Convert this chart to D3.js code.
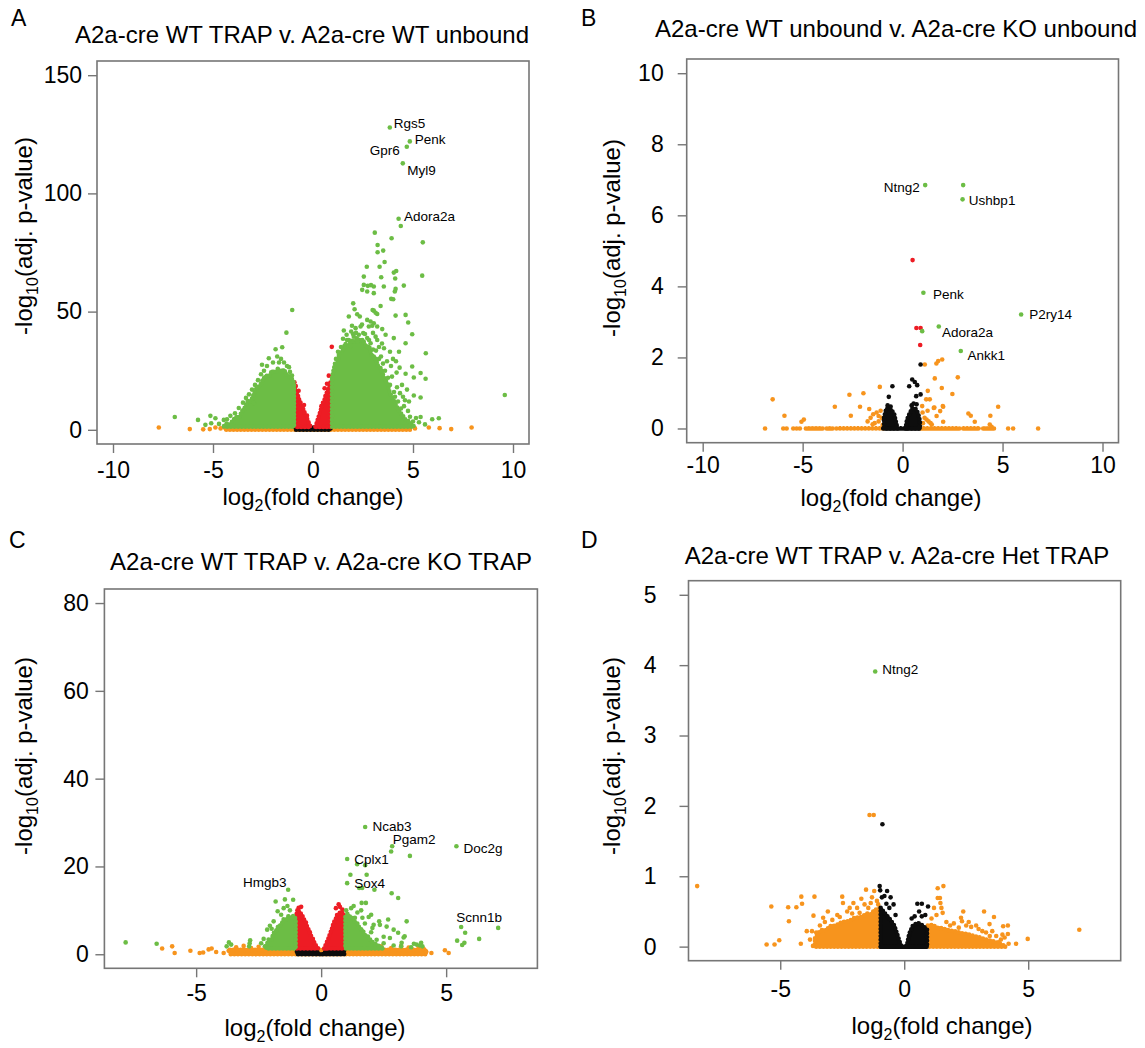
<!DOCTYPE html>
<html>
<head>
<meta charset="utf-8">
<script src="https://cdn.jsdelivr.net/npm/d3@7"></script>
<style>
  body { margin: 0; background: #fff; }
  svg text { font-family: "Liberation Sans", Arial, sans-serif; }
</style>
</head>
<body>
<svg id="fig" width="1145" height="1048"></svg>
<script>
// ---------- data (log2 fold change, -log10 adj. p) ----------

const titles = [
  "A2a-cre WT TRAP v. A2a-cre WT unbound",
  "A2a-cre WT unbound v. A2a-cre KO unbound",
  "A2a-cre WT TRAP v. A2a-cre KO TRAP",
  "A2a-cre WT TRAP v. A2a-cre Het TRAP"
];
const panelLetters = ["A", "B", "C", "D"];

const xTicksAB = [-10, -5, 0, 5, 10];
const xTicksCD = [-5, 0, 5];
const yTicksA = [0, 50, 100, 150];
const yTicksB = [0, 2, 4, 6, 8, 10];
const yTicksC = [0, 20, 40, 60, 80];
const yTicksD = [0, 1, 2, 3, 4, 5];

// dense point clouds, as [x, low, high] outlines
const aCoreOrange = [[[-4.4, 0, 0.9], [4.85, 0, 0.9]]];
const aCoreBlack = [[[-0.88, 0, 1.0], [0.88, 0, 1.0]]];
const aCoreRed = [
  [[-0.9, 1.2, 17], [-0.84, 1.2, 16], [-0.78, 1.2, 15.5], [-0.71, 1.2, 13], [-0.65, 1.2, 12.5], [-0.58, 1.2, 10],
   [-0.5, 1.2, 9], [-0.43, 1.2, 7.5], [-0.36, 1.2, 6], [-0.3, 1.2, 4.8], [-0.24, 1.2, 3.5], [-0.12, 1.2, 1.3]],
  [[0.12, 1.2, 1.3], [0.2, 1.2, 3.2], [0.28, 1.2, 5.5], [0.36, 1.2, 7.5], [0.43, 1.2, 9.5], [0.5, 1.2, 11.5],
   [0.57, 1.2, 12.5], [0.64, 1.2, 15], [0.71, 1.2, 16], [0.78, 1.2, 18], [0.85, 1.2, 18.5], [0.9, 1.2, 19.5]]
];
const aCoreGreen = [
  [[-4.45, 1.3, 1.6], [-4.3, 1.3, 2.8], [-4.15, 1.3, 2.2], [-4.0, 1.3, 4], [-3.85, 1.3, 5.5], [-3.7, 1.3, 5],
   [-3.55, 1.3, 8], [-3.4, 1.3, 9.5], [-3.25, 1.3, 12.5], [-3.1, 1.3, 12], [-2.95, 1.3, 15.5], [-2.8, 1.3, 18],
   [-2.65, 1.3, 18.5], [-2.5, 1.3, 21.5], [-2.35, 1.3, 23], [-2.2, 1.3, 22.5], [-2.05, 1.3, 25], [-1.9, 1.3, 24],
   [-1.75, 1.3, 26], [-1.6, 1.3, 24.5], [-1.45, 1.3, 25.5], [-1.3, 1.3, 23], [-1.15, 1.3, 22.5], [-1.0, 1.3, 21],
   [-0.95, 1.3, 19.5]],
  [[0.95, 1.3, 22], [1.1, 1.3, 28], [1.2, 1.3, 27], [1.3, 1.3, 32], [1.45, 1.3, 33], [1.6, 1.3, 36], [1.75, 1.3, 35],
   [1.9, 1.3, 38], [2.05, 1.3, 37], [2.2, 1.3, 39], [2.35, 1.3, 37.5], [2.5, 1.3, 38], [2.65, 1.3, 35], [2.8, 1.3, 35.5],
   [2.95, 1.3, 31], [3.1, 1.3, 31], [3.25, 1.3, 27], [3.4, 1.3, 26], [3.55, 1.3, 22], [3.7, 1.3, 20], [3.85, 1.3, 15.5],
   [4.0, 1.3, 13], [4.15, 1.3, 10.5], [4.3, 1.3, 8], [4.45, 1.3, 6.5], [4.6, 1.3, 4.5], [4.75, 1.3, 3.8],
   [4.9, 1.3, 2.5], [5.05, 1.3, 1.5]]
];
const aOrange = [[-7.71, 1.0], [-6.16, 0.3], [-5.49, 0.2], [-5.16, 0.3], [-4.88, 1.0], [-4.62, 0.6], [-4.45, 1.3],
  [4.62, 0.9], [4.88, 1.4], [5.1, 0.6], [5.79, 1.0], [6.33, 0.7], [6.91, 0.3], [7.93, 1.0]];
const aBlack = [];
const aRed = [[-0.93, 20.1], [-0.86, 18.5], [-0.72, 16.5], [-0.45, 10.5], [0.58, 17.6], [0.79, 22.9], [0.87, 20.0],
  [0.7, 19.5], [0.94, 35.1], [0.42, 10], [-0.3, 6]];
const aGreen = [
  [3.84, 127.9], [4.84, 122.0], [4.69, 119.7], [4.49, 112.7], [4.28, 89.3], [4.39, 86.2],
  [3.09, 83.4], [3.93, 81.0], [5.49, 79.3], [3.23, 78.2], [3.51, 75.8], [3.23, 75.1], [3.58, 71.0], [2.69, 69.0],
  [3.33, 69.0], [4.04, 66.5], [4.16, 67.2], [5.46, 65.2], [2.54, 64.8], [3.41, 64.5], [4.11, 64.0], [2.54, 61.3],
  [2.74, 60.9], [3.04, 60.6], [2.9, 61.2], [3.54, 60.6], [4.54, 61.0], [2.46, 59.2], [2.71, 58.5], [3.04, 57.8],
  [4.09, 58.5], [4.13, 59.6], [3.91, 55.4], [4.01, 55.2], [2.01, 53.5], [3.38, 52.4], [2.08, 51.0], [2.98, 50.7],
  [3.04, 50.4], [2.21, 48.9], [2.34, 47.9], [3.21, 49.0], [3.13, 49.5], [4.13, 48.3], [4.63, 48.6], [1.79, 47.9],
  [2.71, 46.5], [2.88, 45.8], [3.04, 45.1], [4.76, 45.4], [2.79, 43.7], [2.96, 44.0], [3.21, 43.7], [3.46, 42.6],
  [1.54, 42.0], [1.68, 40.2], [1.91, 41.6], [2.13, 43.0], [2.38, 43.7], [2.51, 40.9], [2.29, 40.2], [2.04, 39.4],
  [1.79, 38.0], [1.63, 36.3], [1.88, 35.5], [2.21, 37.3], [2.46, 38.0], [2.71, 38.8], [2.88, 36.6], [3.21, 38.0],
  [3.13, 39.4], [3.63, 40.2], [4.04, 38.8], [4.63, 36.6], [4.96, 40.4], [5.64, 32.4], [5.38, 24.0], [5.63, 21.6],
  [4.96, 26.8], [5.04, 22.1], [4.63, 23.7], [4.33, 26.3], [4.18, 24.2], [5.04, 14.5], [5.38, 13.7], [9.59, 14.7],
  [5.38, 5.4], [5.96, 4.5], [6.29, 4.9],
  [1.05, 25], [1.15, 30], [1.25, 33], [1.4, 35], [1.5, 38.5], [1.7, 38], [2.0, 40.5], [2.15, 41], [2.6, 40.5],
  [2.8, 38], [3.0, 34], [3.15, 33.5], [3.3, 30], [3.4, 31], [3.5, 28], [3.6, 25], [3.75, 22], [3.85, 19],
  [3.95, 22.5], [4.05, 16], [4.1, 14], [4.25, 12], [4.4, 9], [4.5, 14], [4.6, 12.5], [4.75, 8], [4.85, 5.5],
  [5.0, 3.5], [3.7, 29], [3.85, 33], [4.0, 30], [4.45, 19], [4.7, 17], [3.55, 34.5], [4.3, 33], [4.15, 29],
  [3.45, 36.5], [5.15, 5], [5.3, 3.2], [5.6, 2.3], [3.3, 35], [3.0, 41], [2.45, 44.5], [1.95, 44], [4.2, 18],
  [4.55, 10], [4.35, 15.5], [3.9, 27], [4.8, 12],
  [-1.04, 50.7], [-1.33, 41.1], [-1.54, 34.9], [-1.87, 34.1], [-2.21, 30.3], [-1.79, 31.0], [-1.6, 30.0],
  [-1.45, 28.5], [-1.3, 27], [-1.15, 24.5], [-1.05, 23], [-2.0, 28.5], [-2.3, 27], [-2.45, 25], [-2.6, 23.5],
  [-2.75, 21], [-2.9, 19], [-3.05, 17], [-3.2, 15], [-3.35, 13.5], [-3.5, 11.5], [-3.71, 9.2], [-3.9, 7],
  [-4.13, 5.9], [-4.3, 4.5], [-4.46, 4.2], [-4.7, 2.5], [-4.88, 4.9], [-5.09, 2.8], [-5.13, 5.9], [-5.38, 2.1],
  [-5.75, 4.2], [-6.91, 5.4], [-2.96, 11.3], [-3.29, 9.2], [-2.55, 27.5], [-1.7, 28.5], [-1.2, 26.5]
];
const aLabels = [["Rgs5", 3.84, 127.9], ["Penk", 4.84, 122.0], ["Gpr6", 4.69, 119.7], ["Myl9", 4.49, 112.7], ["Adora2a", 4.28, 89.3]];

const bCoreOrange = [
  [[-4.84, 0, 0], [-3.97, 0, 0]], [[-3.8, 0, 0], [-3.47, 0, 0]], [[-3.31, 0, 0], [-0.97, 0, 0]],
  [[0.9, 0, 0], [2.86, 0, 0]], [[3.03, 0, 0], [3.86, 0, 0]], [[4.03, 0, 0], [4.61, 0, 0]]
];
const bCoreBlack = [
  [[-0.97, 0, 0], [0.9, 0, 0]],
  [[-0.93, 0, 0.3], [-0.82, 0, 0.55], [-0.7, 0, 0.6], [-0.55, 0, 0.52], [-0.42, 0, 0.4], [-0.32, 0, 0.15], [-0.25, 0, 0]],
  [[0.15, 0, 0], [0.22, 0, 0.25], [0.35, 0, 0.42], [0.5, 0, 0.58], [0.65, 0, 0.55], [0.78, 0, 0.42], [0.87, 0, 0.2]]
];
const bCoreRed = [];
const bCoreGreen = [];
const bOrange = [
  [-6.88, 0], [-5.97, 0], [-5.8, 0], [-5.47, 0], [-5.3, 0], [-5.14, 0], [5.28, 0], [5.53, 0], [6.78, 0],
  [-6.5, 0.82], [-5.91, 0.36], [-5.06, 0.19], [-4.94, 0.25], [-3.39, 0.61], [-2.66, 0.95], [-1.96, 0.99],
  [-2.13, 0.61], [-2.59, 0.36], [-1.14, 1.17], [-1.67, 0.55], [-1.47, 0.4], [-1.6, 0.3], [-1.3, 0.45],
  [-1.2, 0.35], [-1.1, 0.5], [-1.05, 0.3], [-1.75, 0.2], [-1.4, 0.15], [-1.5, 0.12], [-1.2, 0.2], [-1.0, 0.1],
  [1.11, 1.80], [1.69, 1.83], [1.78, 1.9], [1.98, 1.94], [1.61, 1.41], [2.76, 1.44], [1.26, 1.06], [1.96, 1.14],
  [2.49, 0.97], [1.18, 0.82], [1.36, 0.82], [1.59, 0.59], [2.03, 0.61], [1.88, 0.49], [0.98, 0.63], [1.56, 0.58],
  [2.01, 0.63], [1.0, 0.45], [1.1, 0.3], [1.25, 0.5], [1.7, 0.35], [1.46, 0.11], [2.03, 0.19], [4.78, 0.61],
  [3.29, 0.42], [3.41, 0.36], [4.39, 0.36], [4.36, 0.11], [4.45, 0.05], [3.61, 0.19], [1.02, 0.15], [1.3, 0.2],
  [1.2, 0.25], [1.4, 0.15]
];
const bBlack = [[-0.51, 1.19], [-0.69, 0.89], [0.48, 1.38], [0.61, 1.31], [0.73, 1.22], [0.33, 1.19], [0.68, 0.91],
  [0.9, 0.96], [0.9, 1.8], [-0.75, 0.65], [-0.6, 0.62], [0.45, 0.65], [0.55, 0.7], [0.7, 0.68]];
const bRed = [[0.5, 4.74], [0.69, 2.83], [0.9, 2.83], [0.88, 2.35]];
const bGreen = [[1.13, 6.85], [3.03, 6.85], [3.0, 6.45], [1.04, 3.82], [5.93, 3.21], [0.98, 2.74], [1.81, 2.87], [2.91, 2.18]];
const bLabels = [["Ntng2", 1.13, 6.85], ["Ushbp1", 3.0, 6.45], ["Penk", 1.04, 3.82], ["P2ry14", 5.93, 3.21], ["Adora2a", 1.81, 2.87], ["Ankk1", 2.91, 2.18]];

const cCoreOrange = [[[-3.65, 0, 1.0], [4.2, 0, 1.0]]];
const cCoreBlack = [
  [[-0.97, 0, 1.2], [-0.3, 0, 1.2], [-0.05, 0, 0]],
  [[0.05, 0, 0], [0.3, 0, 1.2], [0.92, 0, 1.2]]
];
const cCoreRed = [
  [[-0.98, 1.3, 9.2], [-0.9, 1.3, 9.9], [-0.85, 1.3, 9.4], [-0.78, 1.3, 9.2], [-0.7, 1.3, 8.0], [-0.62, 1.3, 7.5],
   [-0.55, 1.3, 6.0], [-0.47, 1.3, 5.4], [-0.4, 1.3, 4.1], [-0.32, 1.3, 3.4], [-0.25, 1.3, 2.3], [-0.12, 1.3, 1.3]],
  [[0.12, 1.3, 1.3], [0.2, 1.3, 2.4], [0.28, 1.3, 3.4], [0.35, 1.3, 4.6], [0.42, 1.3, 5.6], [0.5, 1.3, 7.2],
   [0.57, 1.3, 7.8], [0.64, 1.3, 9.0], [0.72, 1.3, 9.3], [0.8, 1.3, 9.7], [0.88, 1.3, 9.2], [0.95, 1.3, 8.8]]
];
const cCoreGreen = [
  [[-2.2, 1.3, 1.8], [-2.1, 1.3, 3.4], [-2.0, 1.3, 3.2], [-1.9, 1.3, 4.8], [-1.8, 1.3, 5.4], [-1.7, 1.3, 6.6],
   [-1.6, 1.3, 6.6], [-1.5, 1.3, 8.0], [-1.4, 1.3, 7.8], [-1.3, 1.3, 8.8], [-1.2, 1.3, 8.2], [-1.1, 1.3, 8.8],
   [-1.02, 1.3, 8]],
  [[0.97, 1.3, 8.5], [1.05, 1.3, 9.2], [1.15, 1.3, 8.6], [1.25, 1.3, 8.4], [1.35, 1.3, 7.4], [1.45, 1.3, 7.0],
   [1.55, 1.3, 5.8], [1.65, 1.3, 5.6], [1.75, 1.3, 4.4], [1.85, 1.3, 4.2], [2.0, 1.3, 3.0], [2.2, 1.3, 2.2],
   [2.5, 1.3, 1.3]]
];
const cOrange = [[-6.36, 1.3], [-5.96, 1.8], [-5.86, 0.3], [-5.23, 0.8], [-4.86, 0.3], [-4.72, 0.4], [-4.5, 1.1],
  [-4.38, 1.3], [-4.2, 0.5], [-3.9, 0.3], [4.41, 0.3], [4.95, 0.9], [5.1, 0.3], [-3.4, 1.6], [-3.1, 1.9],
  [-2.8, 1.4], [-2.5, 1.7], [-2.2, 1.5], [-1.8, 1.9], [-1.5, 1.4], [-1.2, 1.7], [1.2, 1.6], [1.6, 1.9], [2.0, 1.5],
  [2.4, 1.8], [2.8, 1.4], [3.2, 1.9], [3.5, 1.5], [3.9, 1.7], [4.1, 1.2], [4.2, 0.5], [-3.7, 0.8]];
const cBlack = [];
const cRed = [[0.59, 10.5], [0.7, 11.4], [0.75, 10.8], [-0.9, 10.6], [-0.8, 10.8], [-0.95, 10], [0.85, 10.2]];
const cGreen = [
  [1.76, 29.0], [2.84, 24.6], [2.80, 23.4], [3.55, 22.4], [5.41, 24.6], [1.04, 21.7], [1.44, 20.5], [1.76, 20.3],
  [1.82, 18.1], [1.17, 18.1], [1.04, 16.2], [1.52, 15.1], [1.64, 15.1], [2.13, 14.7], [2.82, 13.9], [3.08, 12.8],
  [-1.32, 14.7], [2.68, 7.9], [2.32, 7.5], [3.42, 7.5], [2.9, 5.6], [2.10, 6.7], [3.34, 4.1], [3.3, 3.8], [5.6, 6.2],
  [7.08, 6.0], [5.76, 4.9], [5.44, 3.1], [6.32, 3.5], [5.73, 2.6], [5.64, 2.1], [-7.82, 2.7], [-6.58, 2.4],
  [-3.69, 2.7], [-3.6, 2.2], [-2.84, 3.2], [-2.86, 2.5], [3.71, 2.4], [4.0, 2.6],
  [-1.82, 12.0], [-1.12, 12.4], [-1.74, 9.8], [-1.98, 5.8], [-2.16, 5.6], [-2.25, 1.8], [-3.78, 1.8], [-2.88, 1.8],
  [1.62, 11.7], [1.79, 11.7], [1.65, 8.3], [2.05, 6.0], [2.35, 6.7], [2.62, 6.3], [2.22, 3.3], [2.75, 3.7],
  [3.22, 2.6], [3.82, 2.2], [3.08, 4.9], [1.35, 8.3], [-1.5, 10.5], [-1.35, 11], [-1.6, 9], [-1.9, 7.5],
  [-2.05, 6.5], [-2.3, 3.5], [-2.4, 2.5], [-1.25, 10], [-1.45, 12.5], [1.0, 10], [1.2, 10.5], [1.3, 11],
  [1.45, 9.5], [1.6, 10], [1.9, 8.5], [2.0, 9], [1.75, 7], [2.0, 5], [2.5, 4], [2.5, 2.5], [2.9, 2.0], [3.2, 1.8],
  [3.6, 1.6], [4.05, 1.8], [3.95, 2.0]
];
const cLabels = [["Ncab3", 1.76, 29.0], ["Pgam2", 2.84, 24.6], ["Doc2g", 5.41, 24.6], ["Cplx1", 1.04, 21.7], ["Sox4", 1.04, 16.2], ["Hmgb3", -1.32, 14.7], ["Scnn1b", 5.6, 6.2]];

const dCoreOrange = [
  [[-3.6, 0, 0.12], [-3.45, 0, 0.2], [-3.3, 0, 0.24], [-3.15, 0, 0.23], [-3.0, 0, 0.29], [-2.75, 0, 0.3],
   [-2.5, 0, 0.35], [-2.25, 0, 0.36], [-2.0, 0, 0.41], [-1.75, 0, 0.42], [-1.5, 0, 0.47], [-1.35, 0, 0.46],
   [-1.2, 0, 0.52], [-0.95, 0, 0.55]],
  [[0.95, 0, 0.3], [1.15, 0, 0.31], [1.3, 0, 0.27], [1.55, 0, 0.26], [1.8, 0, 0.23], [2.05, 0, 0.22],
   [2.3, 0, 0.19], [2.55, 0, 0.18], [2.8, 0, 0.15], [3.05, 0, 0.13], [3.3, 0, 0.1], [3.55, 0, 0.08],
   [3.8, 0, 0.05], [4.1, 0, 0]]
];
const dCoreBlack = [
  [[-0.95, 0, 0], [0.92, 0, 0]],
  [[-0.95, 0, 0.55], [-0.8, 0, 0.48], [-0.6, 0, 0.4], [-0.4, 0, 0.3], [-0.25, 0, 0.14], [-0.12, 0, 0]],
  [[0.1, 0, 0], [0.2, 0, 0.18], [0.35, 0, 0.3], [0.55, 0, 0.34], [0.75, 0, 0.3], [0.92, 0, 0.24]]
];
const dCoreRed = [];
const dCoreGreen = [];
const dOrange = [[-8.35, 0.86], [7.06, 0.24], [4.98, 0.11], [4.51, 0.04], [-5.36, 0.57], [-4.68, 0.56], [-4.35, 0.56],
  [-4.15, 0.71], [-4.12, 0.61], [-3.62, 0.71], [-4.65, 0.36], [-3.66, 0.44], [-2.5, 0.71], [-1.54, 0.81], [-1.21, 0.79],
  [-5.55, 0.03], [-5.23, 0.03], [-5.04, 0.09], [-4.17, 0.04], [-3.68, 0.01], [-3.93, 0.22], [-3.72, 0.22],
  [-3.27, 0.41], [-3.08, 0.5], [-2.47, 0.62], [-2.05, 0.62], [-1.73, 0.68], [1.35, 0.83], [1.58, 0.86], [1.44, 0.69],
  [1.35, 0.69], [1.46, 0.62], [2.38, 0.5], [3.22, 0.5], [3.62, 0.42], [2.29, 0.41], [2.33, 0.36], [3.44, 0.32],
  [3.99, 0.29], [4.18, 0.3], [3.96, 0.17], [4.18, 0.18], [3.71, 0.15], [3.81, 0.06], [4.21, 0.04], [-1.40, 1.87],
  [-1.23, 1.87], [-3.4, 0.3], [-3.2, 0.35], [-2.9, 0.38], [-2.7, 0.45], [-2.3, 0.5], [-2.2, 0.55], [-1.9, 0.55],
  [-1.6, 0.6], [-1.35, 0.62], [-1.1, 0.65], [-1.3, 0.7], [-1.8, 0.48], [1.1, 0.4], [1.3, 0.45], [1.5, 0.55],
  [1.55, 0.48], [1.2, 0.55], [1.7, 0.35], [2.0, 0.33], [2.5, 0.3], [2.7, 0.28], [3.0, 0.25], [3.3, 0.2], [2.9, 0.3],
  [2.6, 0.35], [3.55, 0.22], [3.9, 0.1], [4.05, 0.13], [-2.6, 0.42], [-2.1, 0.47], [-1.45, 0.55], [-1.05, 0.6],
  [-3.55, 0.2], [-3.8, 0.1], [1.85, 0.3], [2.2, 0.27], [3.15, 0.22], [3.45, 0.15]];
const dBlack = [[-0.88, 1.74], [-0.99, 0.86], [-0.97, 0.8], [-0.69, 0.79], [-0.72, 0.61], [-0.43, 0.6], [-0.55, 0.7],
  [-0.8, 0.72], [-0.9, 0.7], [0.53, 0.61], [0.71, 0.61], [0.96, 0.57], [0.42, 0.43], [0.71, 0.43], [0.3, 0.4],
  [0.85, 0.45], [-0.35, 0.45], [-0.6, 0.55], [0.6, 0.5]];
const dRed = [];
const dGreen = [[-1.17, 3.91]];
const dLabels = [["Ntng2", -1.17, 3.91]];

// ---------- drawing ----------

const colors = { orange: "#f7941d", black: "#0d0d0d", red: "#ed1c24", green: "#6cbd45" };
const boxGrey = "#767676";
const R = 2.3;

const svg = d3.select("#fig");

// label placement: [anchor, dx, dy] in px from the point
const labelPlace = {
  Rgs5: ["start", 4, 1], Penk: ["start", 5, 2.7], Gpr6: ["end", -7, 8.3], Myl9: ["start", 4.4, 11.7],
  Adora2a: ["start", 5.3, 2]
};
const labelPlaceB = {
  Ntng2: ["end", -5.3, 6.4], Ushbp1: ["start", 6.3, 5.7], Penk: ["start", 9.6, 6.3], P2ry14: ["start", 8, 5],
  Adora2a: ["start", 3.3, 10.4], Ankk1: ["start", 6.7, 9]
};
const labelPlaceC = {
  Ncab3: ["start", 7.3, 3.8], Pgam2: ["start", 0.7, -2.3], Doc2g: ["start", 7, 6.7], Cplx1: ["start", 7, 5],
  Sox4: ["start", 7, 5], Hmgb3: ["end", -1.6, -2.3], Scnn1b: ["start", -4.8, -4.6]
};
const labelPlaceD = { Ntng2: ["start", 7, 2.3] };

const panels = [
  {
    box: [97, 61, 529, 444], xDomain: [-10.8, 10.8], yDomain: [-6, 156], xTicks: xTicksAB, yTicks: yTicksA,
    xPad: 9, yPad: 6, letter: [11, 26], title: [302, 42.7], xlab: [313, 505], ylab: [32, 236],
    cores: { orange: aCoreOrange, black: aCoreBlack, red: aCoreRed, green: aCoreGreen },
    points: { orange: aOrange, black: aBlack, red: aRed, green: aGreen },
    labels: aLabels, place: labelPlace
  },
  {
    box: [686.7, 59, 1118.5, 442.7], xDomain: [-10.8, 10.8], yDomain: [-0.4, 10.4], xTicks: xTicksAB, yTicks: yTicksB,
    xPad: 5, yPad: 14, letter: [581, 26], title: [896, 37.3], xlab: [891, 506], ylab: [620, 238],
    cores: { orange: bCoreOrange, black: bCoreBlack, red: bCoreRed, green: bCoreGreen },
    points: { orange: bOrange, black: bBlack, red: bRed, green: bGreen },
    labels: bLabels, place: labelPlaceB
  },
  {
    box: [104.4, 589, 537.4, 968.3], xDomain: [-8.67, 8.65], yDomain: [-3.2, 83.2], xTicks: xTicksCD, yTicks: yTicksC,
    xPad: 7, yPad: 6.5, letter: [9, 548], title: [321, 570], xlab: [315, 1036], ylab: [32, 756],
    cores: { orange: cCoreOrange, black: cCoreBlack, red: cCoreRed, green: cCoreGreen },
    points: { orange: cOrange, black: cBlack, red: cRed, green: cGreen },
    labels: cLabels, place: labelPlaceC
  },
  {
    box: [688.5, 580.7, 1120.7, 960.7], xDomain: [-8.7, 8.73], yDomain: [-0.2, 5.2], xTicks: xTicksCD, yTicks: yTicksD,
    xPad: 10.7, yPad: 23, letter: [581, 548], title: [897, 564], xlab: [942, 1034], ylab: [620, 756],
    cores: { orange: dCoreOrange, black: dCoreBlack, red: dCoreRed, green: dCoreGreen },
    points: { orange: dOrange, black: dBlack, red: dRed, green: dGreen },
    labels: dLabels, place: labelPlaceD
  }
];

panels.forEach((p, i) => {
  const [bx0, by0, bx1, by1] = p.box;
  const x = d3.scaleLinear().domain(p.xDomain).range([bx0, bx1]);
  const y = d3.scaleLinear().domain(p.yDomain).range([by1, by0]);
  const g = svg.append("g");

  const area = d3.area()
    .x((d) => x(d[0]))
    .y0((d) => y(d[1]))
    .y1((d) => y(d[2]));

  ["orange", "black", "red", "green"].forEach((c) => {
    // filled cloud, then a beaded outline so its edge reads as dots
    const cg = g.append("g");
    cg.selectAll("path.fill")
      .data(p.cores[c])
      .join("path")
      .attr("class", "fill")
      .attr("d", area)
      .attr("fill", colors[c])
      .attr("stroke", colors[c])
      .attr("stroke-width", R)
      .attr("stroke-linejoin", "round");
    cg.selectAll("path.edge")
      .data(p.cores[c])
      .join("path")
      .attr("class", "edge")
      .attr("d", area)
      .attr("fill", "none")
      .attr("stroke", colors[c])
      .attr("stroke-width", 2 * R)
      .attr("stroke-linecap", "round")
      .attr("stroke-dasharray", "0,3.6");
    g.append("g")
      .selectAll("circle")
      .data(p.points[c])
      .join("circle")
      .attr("cx", (d) => x(d[0]))
      .attr("cy", (d) => y(d[1]))
      .attr("r", R)
      .attr("fill", colors[c]);
  });

  g.append("rect")
    .attr("x", bx0).attr("y", by0)
    .attr("width", bx1 - bx0).attr("height", by1 - by0)
    .attr("fill", "none").attr("stroke", boxGrey).attr("stroke-width", 1.6);

  const fmt = (d) => String(d);
  const xa = g.append("g")
    .attr("transform", `translate(0,${by1})`)
    .call(d3.axisBottom(x).tickValues(p.xTicks).tickSize(9).tickPadding(p.xPad).tickFormat(fmt));
  const ya = g.append("g")
    .attr("transform", `translate(${bx0},0)`)
    .call(d3.axisLeft(y).tickValues(p.yTicks).tickSize(9).tickPadding(p.yPad).tickFormat(fmt));
  [xa, ya].forEach((a) => {
    a.select(".domain").remove();
    a.selectAll(".tick line").attr("stroke", boxGrey).attr("stroke-width", 1.4);
    a.selectAll(".tick text")
      .attr("font-size", 23)
      .attr("font-family", "Liberation Sans, Arial, sans-serif")
      .attr("fill", "#000");
  });

  // gene labels
  g.append("g")
    .selectAll("text")
    .data(p.labels)
    .join("text")
    .attr("x", (d) => x(d[1]) + p.place[d[0]][1])
    .attr("y", (d) => y(d[2]) + p.place[d[0]][2])
    .attr("text-anchor", (d) => p.place[d[0]][0])
    .attr("font-size", 13.5)
    .attr("fill", "#000")
    .text((d) => d[0]);

  // panel letter and title
  svg.append("text")
    .attr("x", p.letter[0]).attr("y", p.letter[1])
    .attr("font-size", 23).text(panelLetters[i]);
  svg.append("text")
    .attr("x", p.title[0]).attr("y", p.title[1])
    .attr("text-anchor", "middle").attr("font-size", 24)
    .text(titles[i]);

  // axis titles
  const xl = svg.append("text")
    .attr("x", p.xlab[0]).attr("y", p.xlab[1])
    .attr("text-anchor", "middle").attr("font-size", 24);
  xl.append("tspan").text("log");
  xl.append("tspan").attr("font-size", 16).attr("dy", 6).text("2");
  xl.append("tspan").attr("dy", -6).text("(fold change)");

  const yl = svg.append("text")
    .attr("transform", `translate(${p.ylab[0]},${p.ylab[1]}) rotate(-90)`)
    .attr("text-anchor", "middle").attr("font-size", 24);
  yl.append("tspan").text("-log");
  yl.append("tspan").attr("font-size", 16).attr("dy", 6).text("10");
  yl.append("tspan").attr("dy", -6).text("(adj. p-value)");
});
</script>
</body>
</html>
